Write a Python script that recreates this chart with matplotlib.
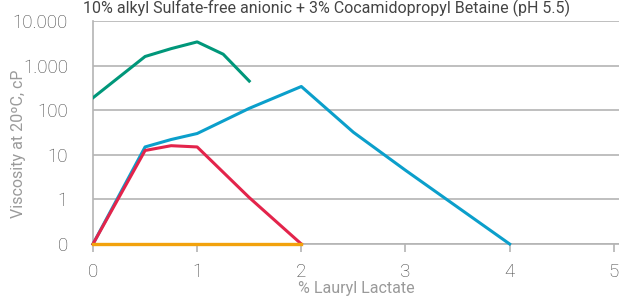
import numpy as np
import matplotlib.pyplot as plt
from matplotlib.ticker import FixedLocator, FixedFormatter

plt.rcParams['font.family'] = ['Roboto', 'DejaVu Sans']

# % lauryl lactate vs viscosity (cP); "0" on the chart is drawn at 0.1
green_x = [0, 0.5, 0.75, 1.0, 1.25, 1.5]
green_y = [190, 1600, 2400, 3400, 1800, 450]

blue_x = [0, 0.5, 0.75, 1.0, 1.5, 2.0, 2.5, 3.0, 4.0]
blue_y = [0.1, 15, 22, 30, 110, 340, 32, 4.5, 0.1]

red_x = [0, 0.5, 0.75, 1.0, 1.5, 2.0]
red_y = [0.1, 12.5, 16, 15, 1.1, 0.1]

orange_x = [0, 2.0]
orange_y = [0.1, 0.1]

y_ticks = [0.1, 1, 10, 100, 1000, 10000]
y_labels = ['0', '1', '10', '100', '1.000', '10.000']
x_ticks = [0, 1, 2, 3, 4, 5]

title = "10% alkyl Sulfate-free anionic + 3% Cocamidopropyl Betaine (pH 5.5)"

fig = plt.figure(figsize=(6.19, 2.98), dpi=100)
ax = fig.add_axes([93/619, 54/298, 526/619, 223/298])

grid_c = '#b4b4b4'
ax.plot(orange_x, orange_y, color='#f2a20c', lw=2.4, zorder=5, clip_on=False)
ax.plot(green_x, green_y, color='#00977a', lw=2.2, zorder=3)
ax.plot(blue_x, blue_y, color='#0b9fcb', lw=2.2, zorder=3, clip_on=False)
ax.plot(red_x, red_y, color='#e3244b', lw=2.2, zorder=4, clip_on=False)

ax.set_yscale('log')
ax.set_ylim(0.1, 10000)
ax.set_xlim(0, 5.05)
ax.yaxis.set_major_locator(FixedLocator(y_ticks))
ax.yaxis.set_major_formatter(FixedFormatter(y_labels))
ax.yaxis.set_minor_locator(FixedLocator([]))
ax.set_xticks(x_ticks)
ax.set_xticklabels([str(v) for v in x_ticks])

ax.grid(axis='y', color=grid_c, lw=1.2)
ax.set_axisbelow(True)
for s in ['top', 'right']:
    ax.spines[s].set_visible(False)
for s in ['left', 'bottom']:
    ax.spines[s].set_color(grid_c)
    ax.spines[s].set_linewidth(1.2)

ax.tick_params(axis='y', length=0, pad=18, labelsize=13.5, labelcolor='#444444')
ax.tick_params(axis='x', length=6, width=1.2, color=grid_c, pad=8,
               labelsize=13.5, labelcolor='#444444')
for lab in ax.get_xticklabels() + ax.get_yticklabels():
    lab.set_fontweight('light')

ax.set_xlabel('% Lauryl Lactate', fontsize=11.5, color='#9a9a9a', labelpad=0)
ax.set_ylabel('Viscosity at 20ºC, cP', fontsize=11.5, color='#9a9a9a')
ax.yaxis.set_label_coords(-0.128, 0.45)

fig.text(83/619, 1.0, title, fontsize=11.5, color='#444444', va='top', ha='left')

fig.savefig('out.png', dpi=100)
